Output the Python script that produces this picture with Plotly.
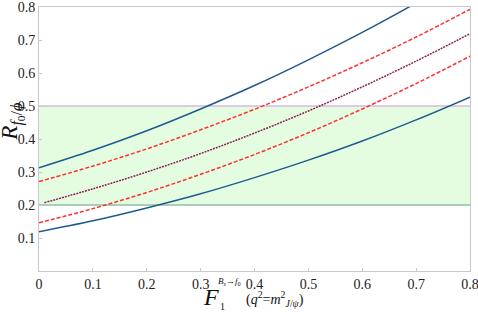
import plotly.graph_objects as go

F = [0.0, 0.1, 0.2, 0.3, 0.4, 0.5, 0.6, 0.7, 0.8]
R_upper_blue = [0.313, 0.366, 0.425, 0.491, 0.562, 0.640, 0.723, 0.812, 0.905]
R_upper_red = [0.271, 0.318, 0.370, 0.428, 0.490, 0.558, 0.631, 0.709, 0.793]
F_mid = [0.01, 0.1, 0.2, 0.3, 0.4, 0.5, 0.6, 0.7, 0.8]
R_mid = [0.207, 0.249, 0.300, 0.356, 0.418, 0.485, 0.558, 0.636, 0.719]
R_lower_red = [0.146, 0.189, 0.238, 0.293, 0.353, 0.419, 0.491, 0.568, 0.651]
R_lower_blue = [0.119, 0.152, 0.191, 0.234, 0.283, 0.336, 0.394, 0.458, 0.527]
band = [0.2, 0.5]
x_ticks = [0, 0.1, 0.2, 0.3, 0.4, 0.5, 0.6, 0.7, 0.8]
x_labels = ["0", "0.1", "0.2", "0.3", "0.4", "0.5", "0.6", "0.7", "0.8"]
y_ticks = [0.1, 0.2, 0.3, 0.4, 0.5, 0.6, 0.7, 0.8]
y_labels = ["0.1", "0.2", "0.3", "0.4", "0.5", "0.6", "0.7", "0.8"]

BLUE = "#1f5a8e"
RED = "#ff3030"
PURPLE = "#8a2458"
SERIF = "'Liberation Serif', 'DejaVu Serif', serif"

fig = go.Figure()
fig.add_shape(type="rect", xref="x", yref="y", x0=0, x1=0.8, y0=band[0], y1=band[1],
              fillcolor="#e4fde0", line_width=0, layer="below")
fig.add_shape(type="line", xref="x", yref="y", x0=0, x1=0.8, y0=band[1], y1=band[1],
              line=dict(color="#d6b8dc", width=1.5), layer="below")
fig.add_shape(type="line", xref="x", yref="y", x0=0, x1=0.8, y0=band[0], y1=band[0],
              line=dict(color="#93bca6", width=1.5), layer="below")

def add(x, y, color, dash):
    fig.add_trace(go.Scatter(x=x, y=y, mode="lines", line_shape="spline",
                             line=dict(color=color, width=1.5, dash=dash),
                             showlegend=False, hoverinfo="skip"))

add(F, R_upper_blue, BLUE, "solid")
add(F, R_lower_blue, BLUE, "solid")
add(F, R_upper_red, RED, "4px,2px")
add(F, R_lower_red, RED, "4px,2px")
add(F_mid, R_mid, PURPLE, "2px,1px")

axis_common = dict(showline=True, linecolor="#c8c8c8", linewidth=1, mirror=True,
                   showgrid=False, zeroline=False, ticks="inside", ticklen=3,
                   tickcolor="#c8c8c8", automargin=False, ticklabeloverflow="allow",
                   tickfont=dict(family=SERIF, size=14, color="#222"))
fig.update_xaxes(range=[0, 0.8], tickvals=x_ticks, ticktext=x_labels, **axis_common)
fig.update_yaxes(range=[0, 0.8], tickvals=y_ticks, ticktext=y_labels, **axis_common)

ann = []
ann.append(dict(text="<i>F</i>", x=211, y=297, size=24))
ann.append(dict(text="<i>B<sub>s</sub></i>→<i>f</i><sub>0</sub>", x=230, y=281, size=9))
ann.append(dict(text="1", x=223, y=306, size=10))
ann.append(dict(text="(<i>q</i><sup>2</sup>=<i>m</i><sup>2</sup><sub><i>J</i>/<i>ψ</i></sub>)", x=275, y=299, size=14))
annotations = []
for a in ann:
    annotations.append(dict(text=a["text"], xref="paper", yref="paper",
                            x=(a["x"] - 39.3) / (470 - 39.3), y=(271 - a["y"]) / (271 - 7),
                            showarrow=False, xanchor="center", yanchor="middle",
                            font=dict(family=SERIF, color="#111", size=a["size"])))
annotations.append(dict(text="<i>R</i><sub><i>f</i><sub>0</sub>/<i>ϕ</i></sub>", xref="paper", yref="paper",
                        x=(12 - 39.3) / (470 - 39.3), y=(271 - 122) / (271 - 7), textangle=-90,
                        showarrow=False, xanchor="center", yanchor="middle",
                        font=dict(family=SERIF, color="#111", size=23)))

fig.update_layout(width=478, height=312, margin=dict(l=39, r=8, t=7, b=41, autoexpand=False),
                  font=dict(family=SERIF),
                  plot_bgcolor="white", paper_bgcolor="white", annotations=annotations)
fig.write_html("out.html", config={"displayModeBar": False},
               post_script="document.body.style.margin='0';document.body.style.padding='0';")
